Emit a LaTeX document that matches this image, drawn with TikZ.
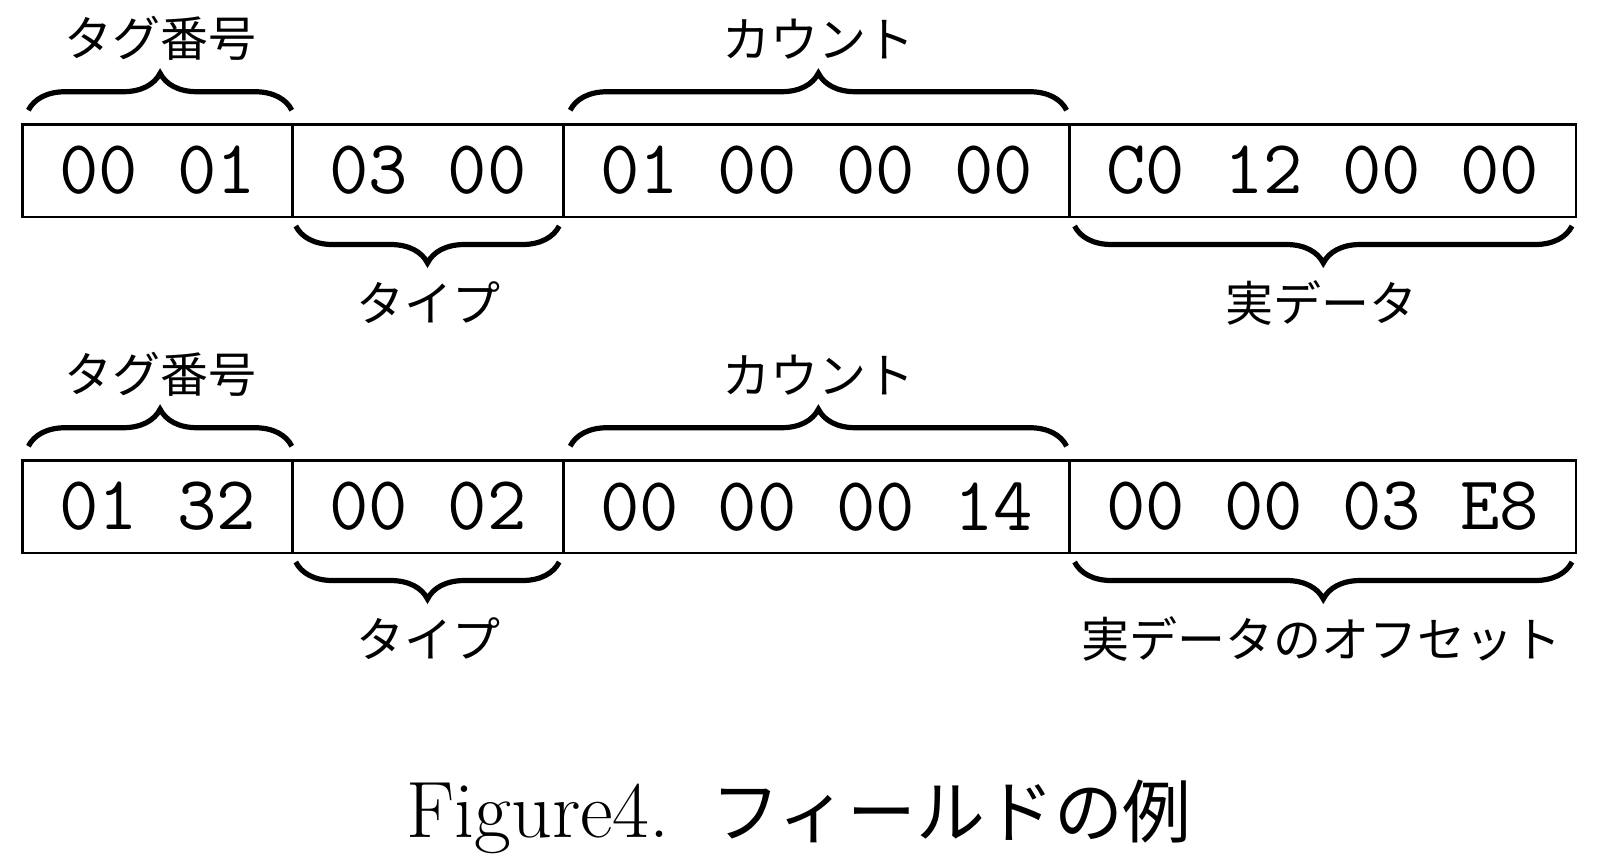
\documentclass[tikz,border=0pt]{standalone}
\usepackage{fontspec}
\newfontfamily\jp{Noto Sans CJK JP}
\usetikzlibrary{decorations.pathreplacing,calc}
\begin{document}
\begin{tikzpicture}[x=0.25pt,y=-0.25pt,
  field/.style={draw, line width=0.7pt, minimum height=23.2pt, inner sep=0pt, outer sep=0pt, anchor=west,
    font=\ttfamily\fontsize{19.1}{20}\selectfont},
  shortfield/.style={field, minimum width=67.6pt},
  longfield/.style={field, minimum width=126.6pt},
  bracepath/.style={decorate, decoration={brace, amplitude=9.25pt}, line width=1.3pt},
  lbl/.style={font=\jp\fontsize{12}{14}\selectfont, inner sep=0pt},
  captiontext/.style={font=\fontsize{20}{22}\selectfont, inner sep=0pt, anchor=base},
]
\useasboundingbox (0,0) rectangle (1598,861);
% ---- row 1
\node[shortfield] (a1) at (22.4,170.6) {00 01};
\node[shortfield] (a2) at (a1.east) {03 00};
\node[longfield]  (a3) at (a2.east) {01 00 00 00};
\node[longfield]  (a4) at (a3.east) {C0 12 00 00};
\draw[bracepath] ($(a1.north west)+(6,-14)$) -- ($(a1.north east)+(-1,-14)$);
\draw[bracepath] ($(a3.north west)+(7,-14)$) -- ($(a3.north east)+(-3,-14)$);
\draw[bracepath] ($(a2.south east)+(-4,9)$) -- ($(a2.south west)+(3,9)$);
\draw[bracepath] ($(a4.south east)+(-4,9)$) -- ($(a4.south west)+(5,9)$);
\node[lbl] (t1) at (161,38.7) {タグ番号};
\node[lbl] (t2) at (818,38.7) {カウント};
\node[lbl] (t3) at (428,302.6) {タイプ};
\node[lbl] (t4) at (1321.6,302.6) {実データ};
% ---- row 2
\node[shortfield] (b1) at (22.4,506.6) {01 32};
\node[shortfield] (b2) at (b1.east) {00 02};
\node[longfield]  (b3) at (b2.east) {00 00 00 14};
\node[longfield]  (b4) at (b3.east) {00 00 03 E8};
\draw[bracepath] ($(b1.north west)+(6,-14)$) -- ($(b1.north east)+(-1,-14)$);
\draw[bracepath] ($(b3.north west)+(7,-14)$) -- ($(b3.north east)+(-3,-14)$);
\draw[bracepath] ($(b2.south east)+(-4,9)$) -- ($(b2.south west)+(3,9)$);
\draw[bracepath] ($(b4.south east)+(-4,9)$) -- ($(b4.south west)+(5,9)$);
\node[lbl] (u1) at (161,374.7) {タグ番号};
\node[lbl] (u2) at (818,374.7) {カウント};
\node[lbl] (u3) at (428,638.6) {タイプ};
\node[lbl] (u4) at (1321.6,638.6) {実データのオフセット};
% ---- caption
\node[captiontext] (c) at (799,837) {Figure4.\hspace{10.5pt}{\jp\fontsize{17.2}{20}\selectfont フィールドの例}};
\end{tikzpicture}
\end{document}
